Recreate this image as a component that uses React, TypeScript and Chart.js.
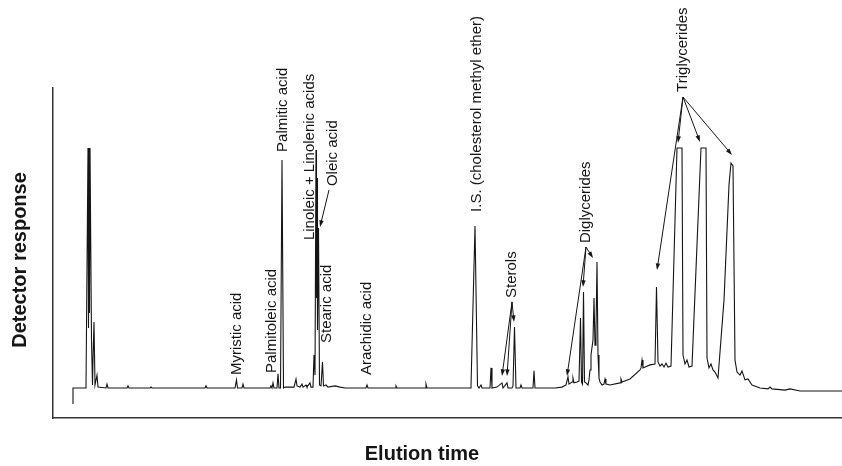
import React, { useEffect, useRef } from "react";
import { Chart, registerables } from "chart.js";

Chart.register(...registerables);

// Elution time (min) / detector response (arbitrary units)
const solventRegion: [number, number][] = [
  [2.0, -5.3], [2.0, 0], [3.3, 0], [3.5, 80], [3.55, 20], [3.6, 80], [3.65, 25], [3.7, 80],
  [3.75, 80], [3.85, 16], [3.95, 1], [4.0, 9.3],
  [4.1, 22], [4.2, 1], [4.4, 4.3], [4.5, 0.3], [5.3, 0], [5.4, 1.3], [5.5, 0], [7.4, 0],
  [7.5, 0.7], [7.6, 0], [9.7, 0], [9.8, 0.3], [9.9, 0], [15.2, 0], [15.3, 0.7], [15.4, 0],
];

const fattyAcidRegion: [number, number][] = [
  [18.2, 0], [18.35, 2.7], [18.45, 0], [18.9, 0], [19.0, 1.3], [19.1, 0], [21.7, 0], [21.8, 0.7],
  [21.9, 0], [22.0, 1.7], [22.1, 0], [22.4, 0], [22.5, 4.7], [22.6, 0], [22.75, 0], [22.9, 76],
  [23.05, 0], [23.2, 0.3], [24.1, 0.3], [24.3, 3], [24.4, 0.7], [24.7, 0.3], [24.9, 1.3], [25.0, 0.3],
  [25.3, 1], [25.4, 0.3], [25.7, 1.7], [25.8, 0.3], [26.0, 0.3], [26.1, 11], [26.2, 4.3], [26.3, 79.3],
  [26.35, 30], [26.4, 70], [26.45, 19.3], [26.55, 53.3], [26.65, 1], [26.8, 0.7], [26.95, 8.7], [27.05, 0.7],
  [27.3, 1], [27.5, 0.3], [28.2, 0.7], [28.7, 0.3], [29.2, 0], [31.3, 0], [31.4, 1], [31.5, 0],
];

const sterolRegion: [number, number][] = [
  [34.2, 0], [34.3, 0.7], [34.4, 0], [37.2, 0], [37.3, 1.3], [37.4, 0], [41.7, 0], [41.8, 0.7],
  [42.2, 54], [42.45, 0.7], [42.6, 0], [42.8, 1], [42.9, 0], [43.7, 0], [43.8, 6.7], [43.9, 0],
  [44.4, 0.3], [44.9, 1.7], [45.0, 0], [45.4, 1.7], [45.5, 0], [45.9, 0], [46.0, 0.7], [46.15, 20.3],
  [46.3, 0], [46.7, 0], [46.8, 1], [46.9, 0], [48.0, 0], [48.1, 5.7], [48.2, 0],
];

const diglycerideRegion: [number, number][] = [
  [50.2, 0], [50.9, 0.3], [51.3, 1], [51.5, 3.7], [51.6, 1.3], [51.9, 2], [52.0, 3.3], [52.1, 1.7],
  [52.4, 2], [52.6, 2.3], [52.75, 23.3], [52.85, 2], [52.95, 1.3], [53.05, 32], [53.15, 2], [53.3, 1.7],
  [53.5, 1], [53.6, 2.7], [53.7, 6], [53.8, 11], [54.0, 16], [54.1, 30], [54.2, 14.3], [54.3, 19.3],
  [54.4, 42], [54.5, 11], [54.6, 3.3], [54.7, 2], [54.9, 1], [55.1, 1.3], [55.2, 3], [55.3, 1.3],
  [55.7, 1], [56.7, 1.7], [56.8, 3], [56.9, 2], [57.7, 3], [58.7, 6],
];

const triglycerideRegion: [number, number][] = [
  [58.8, 6.7], [58.9, 9.3], [59.0, 6.7], [59.7, 7.7], [60.2, 8], [60.35, 33.7], [60.5, 8.7], [60.7, 7.3],
  [60.9, 8], [61.1, 7], [61.3, 8.3], [61.5, 7], [61.8, 7.3], [62.4, 80], [62.9, 80], [63.0, 11],
  [63.2, 8], [63.4, 9.3], [63.6, 7], [63.9, 7.3], [64.8, 80], [65.3, 80], [65.4, 10], [65.6, 6.7],
  [65.8, 8], [66.0, 6], [66.2, 5.3], [66.5, 3.3], [67.1, 29.3], [67.6, 67.7], [67.8, 75], [68.0, 74],
  [68.2, 9.3], [68.4, 5.3], [68.7, 4.3], [68.9, 5.7], [69.2, 2.7], [69.5, 3], [69.9, 1], [70.7, 0],
  [71.5, -0.3], [71.7, 0.3], [71.9, -0.3], [73.2, -0.7], [73.7, -0.3], [74.7, -1], [78.9, -1],
];

type Arrow = { from: [number, number]; to: [number, number] };
type PeakLabel = { text: string; at: [number, number]; arrows: Arrow[] };

const peakLabels: PeakLabel[] = [
  { text: "Myristic acid", at: [18.4, 4.3], arrows: [] },
  { text: "Palmitoleic acid", at: [21.9, 5], arrows: [] },
  { text: "Palmitic acid", at: [23.0, 78.7], arrows: [] },
  { text: "Linoleic + Linolenic acids", at: [25.7, 49.3], arrows: [] },
  { text: "Oleic acid", at: [28.0, 67.3], arrows: [{ from: [27.6, 66], to: [26.7, 53.7] }] },
  { text: "Stearic acid", at: [27.4, 15], arrows: [] },
  { text: "Arachidic acid", at: [31.4, 4.3], arrows: [] },
  { text: "I.S. (cholesterol methyl ether)", at: [42.4, 58.7], arrows: [] },
  {
    text: "Sterols", at: [45.9, 30],
    arrows: [
      { from: [45.9, 28.7], to: [44.9, 4] },
      { from: [45.9, 28.7], to: [45.4, 4] },
      { from: [45.9, 28.7], to: [46.1, 22] },
    ],
  },
  {
    text: "Diglycerides", at: [53.3, 48.3],
    arrows: [
      { from: [53.3, 47], to: [51.4, 4] },
      { from: [53.3, 47], to: [53.0, 33.7] },
      { from: [53.3, 47], to: [54.0, 43.3] },
    ],
  },
  {
    text: "Triglycerides", at: [63.0, 98.7],
    arrows: [
      { from: [63.0, 97], to: [60.4, 39.3] },
      { from: [63.0, 97], to: [62.5, 81.7] },
      { from: [63.0, 97], to: [64.7, 82] },
      { from: [63.0, 97], to: [67.9, 77.7] },
    ],
  },
];

const xAxisLabel = "Elution time";
const yAxisLabel = "Detector response";

const FONT = '"Liberation Sans", Arial, Helvetica, sans-serif';
const INK = "#151515";

const annotationPlugin = {
  id: "peakAnnotations",
  afterDatasetsDraw(chart: any) {
    const { ctx, chartArea } = chart;
    const xs = chart.scales.x;
    const ys = chart.scales.y;
    ctx.save();
    ctx.fillStyle = INK;
    ctx.strokeStyle = INK;
    ctx.lineWidth = 1;
    ctx.font = `15px ${FONT}`;
    for (const lab of peakLabels) {
      const px = xs.getPixelForValue(lab.at[0]);
      const py = ys.getPixelForValue(lab.at[1]);
      ctx.save();
      ctx.translate(px, py);
      ctx.rotate(-Math.PI / 2);
      ctx.textAlign = "left";
      ctx.textBaseline = "middle";
      ctx.fillText(lab.text, 0, 0);
      ctx.restore();
      for (const a of lab.arrows) {
        const x1 = xs.getPixelForValue(a.from[0]);
        const y1 = ys.getPixelForValue(a.from[1]);
        const x2 = xs.getPixelForValue(a.to[0]);
        const y2 = ys.getPixelForValue(a.to[1]);
        const ang = Math.atan2(y2 - y1, x2 - x1);
        const L = 7;
        const s = 0.32;
        ctx.beginPath();
        ctx.moveTo(x1, y1);
        ctx.lineTo(x2 - Math.cos(ang) * 4, y2 - Math.sin(ang) * 4);
        ctx.stroke();
        ctx.beginPath();
        ctx.moveTo(x2, y2);
        ctx.lineTo(x2 - L * Math.cos(ang - s), y2 - L * Math.sin(ang - s));
        ctx.lineTo(x2 - L * Math.cos(ang + s), y2 - L * Math.sin(ang + s));
        ctx.closePath();
        ctx.fill();
      }
    }
    ctx.font = `bold 20px ${FONT}`;
    ctx.textAlign = "center";
    ctx.textBaseline = "middle";
    ctx.fillText(xAxisLabel, chartArea.left + 369, chartArea.bottom + 36);
    ctx.save();
    ctx.translate(20, chartArea.top + 172);
    ctx.rotate(-Math.PI / 2);
    ctx.fillText(yAxisLabel, 0, 0);
    ctx.restore();
    ctx.restore();
  },
};

export default function App() {
  const canvasRef = useRef<HTMLCanvasElement | null>(null);

  useEffect(() => {
    document.body.style.margin = "0";
    const canvas = canvasRef.current;
    if (!canvas) return;
    const trace = [
      ...solventRegion,
      ...fattyAcidRegion,
      ...sterolRegion,
      ...diglycerideRegion,
      ...triglycerideRegion,
    ].map(([x, y]) => ({ x, y }));

    const chart = new Chart(canvas, {
      type: "line",
      data: {
        datasets: [
          {
            label: "Chromatogram",
            data: trace,
            borderColor: INK,
            borderWidth: 1.1,
            pointRadius: 0,
            tension: 0,
            fill: false,
          },
        ],
      },
      options: {
        animation: false,
        responsive: false,
        layout: { padding: { left: 53, right: 0, top: 88, bottom: 48 } },
        plugins: {
          legend: { display: false },
          tooltip: { enabled: false },
          title: { display: false },
        },
        scales: {
          x: {
            type: "linear",
            min: 0,
            max: 78.9,
            ticks: { display: false },
            grid: { display: false, drawTicks: false },
            border: { display: true, color: "#333", width: 1.5 },
          },
          y: {
            type: "linear",
            min: -10,
            max: 100,
            ticks: { display: false },
            grid: { display: false, drawTicks: false },
            border: { display: true, color: "#333", width: 1.5 },
          },
        },
      },
      plugins: [annotationPlugin],
    });
    return () => chart.destroy();
  }, []);

  return (
    <div style={{ width: 842, height: 466, background: "#fff" }}>
      <canvas ref={canvasRef} width={842} height={466} />
    </div>
  );
}
